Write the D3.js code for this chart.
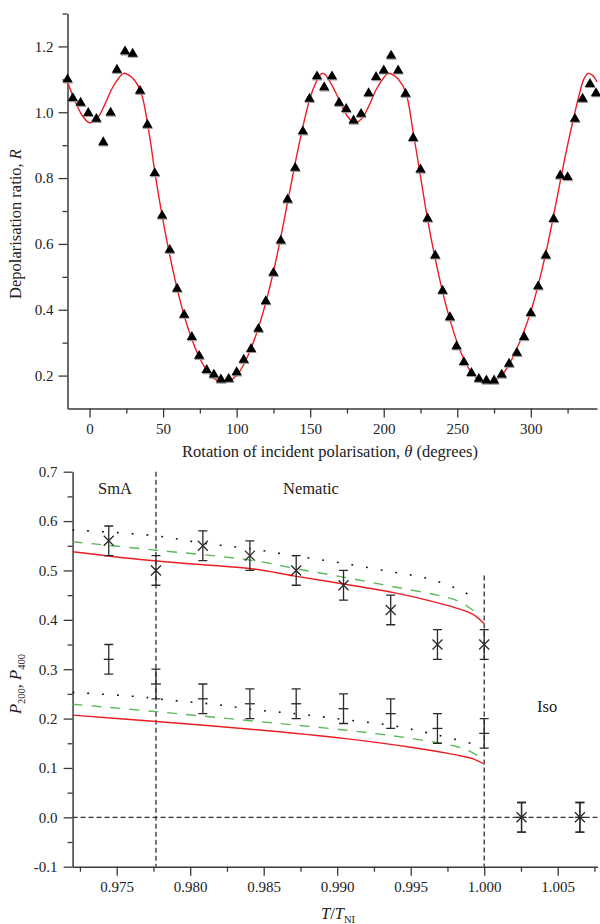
<!DOCTYPE html>
<html><head><meta charset="utf-8">
<script src="https://cdn.jsdelivr.net/npm/d3@7"></script>
<style>
body{margin:0;background:#fff;}
svg{display:block;font-family:"Liberation Serif","Times New Roman",serif;}
</style></head><body>
<svg id="chart" width="600" height="924"></svg>
<script>
// ---------- Top panel: depolarisation ratio vs rotation angle ----------
const thetaDeg = [-15, -11.4, -6.1, -0.9, 4.6, 9.3, 14.3, 18.6, 24.1, 29.3, 34.3, 39.3, 44.3, 49.3,
  54.5, 59.5, 64.3, 69.5, 74.5, 79.6, 84.5, 89.3, 94.6, 100, 104.8, 109.8, 114.8, 119.8, 125, 130,
  134.6, 139.8, 145, 149.5, 154.6, 159.5, 164.8, 169.6, 174.5, 179.5, 184.6, 189.7, 194.8, 200,
  205, 209.8, 214.8, 220, 225, 229.8, 235, 240, 245, 249.5, 254.5, 259.6, 264.7, 269.8, 275,
  280.2, 285.2, 290.5, 295.4, 300, 305, 310.2, 315.5, 320, 325, 330, 335.2, 340.2, 344.3];
const depolR = [1.10, 1.043, 1.029, 0.998, 0.98, 0.909, 0.999, 1.129, 1.185, 1.178, 1.065, 0.962, 0.815, 0.686,
  0.582, 0.464, 0.385, 0.317, 0.26, 0.217, 0.203, 0.188, 0.19, 0.21, 0.248, 0.281, 0.342, 0.426, 0.512, 0.61,
  0.735, 0.831, 0.942, 1.041, 1.109, 1.076, 1.109, 1.029, 1.01, 0.975, 0.995, 1.058, 1.107, 1.127,
  1.172, 1.127, 1.056, 0.922, 0.826, 0.677, 0.565, 0.458, 0.377, 0.289, 0.241, 0.208, 0.19, 0.185, 0.185,
  0.203, 0.236, 0.269, 0.317, 0.39, 0.471, 0.565, 0.676, 0.808, 0.803, 0.98, 1.041, 1.086, 1.058];
const fitTheta = [-15, -10, -5, 0, 5, 10, 15, 20, 23, 25, 30, 35, 40, 45, 50, 55, 60, 65, 70, 75, 80, 85, 90,
  95, 100, 105, 110, 115, 120, 125, 130, 135, 140, 145, 150, 155, 158, 160, 165, 170, 175, 180,
  185, 190, 195, 200, 203, 205, 210, 215, 220, 225, 230, 235, 240, 245, 250, 255, 260, 265, 270,
  275, 280, 285, 290, 295, 300, 305, 310, 315, 320, 325, 330, 333, 336, 339, 342, 345];
const fitR = [1.092, 1.035, 0.99, 0.968, 0.98, 1.02, 1.07, 1.105, 1.118, 1.117, 1.10, 1.06, 0.95, 0.80, 0.67, 0.555, 0.455, 0.372, 0.305, 0.252, 0.214, 0.19, 0.181,
  0.184, 0.2, 0.235, 0.285, 0.348, 0.425, 0.515, 0.62, 0.735, 0.85, 0.955, 1.045, 1.1, 1.118, 1.115, 1.08, 1.035, 0.99, 0.968,
  0.98, 1.02, 1.07, 1.105, 1.118, 1.117, 1.10, 1.06, 0.94, 0.805, 0.67, 0.555, 0.455, 0.37, 0.30, 0.245, 0.207, 0.187, 0.18,
  0.185, 0.2, 0.232, 0.277, 0.33, 0.395, 0.475, 0.568, 0.675, 0.79, 0.9, 1.0, 1.055, 1.1, 1.118, 1.112, 1.092];
const topXTicks = [0, 50, 100, 150, 200, 250, 300];
const topXMinor = [25, 75, 125, 175, 225, 275, 325];
const topYTicks = [0.2, 0.4, 0.6, 0.8, 1.0, 1.2];
const topYMinor = [0.3, 0.5, 0.7, 0.9, 1.1, 1.3];

// ---------- Bottom panel: order parameters vs reduced temperature ----------
const tRatio = [0.97446, 0.97767, 0.98086, 0.98406, 0.98721, 0.99043, 0.99364, 0.99682, 1.0, 1.00254, 1.00651];
const p200 = [0.56, 0.50, 0.55, 0.53, 0.50, 0.47, 0.42, 0.35, 0.35, 0.0, 0.0];
const p400 = [0.32, 0.27, 0.24, 0.23, 0.23, 0.22, 0.21, 0.18, 0.17, 0.0, 0.0];
const errP200 = [0.03, 0.03, 0.03, 0.03, 0.03, 0.03, 0.03, 0.03, 0.03, 0.03, 0.03];
const errP400 = [0.03, 0.03, 0.03, 0.03, 0.03, 0.03, 0.03, 0.03, 0.03, 0.03, 0.03];

const redT200 = [0.972, 0.9777, 0.9843, 0.98703, 0.99043, 0.99384, 0.99611, 0.99816, 0.99929, 1.0];
const redP200 = [0.538, 0.519, 0.503, 0.489, 0.4726, 0.455, 0.44, 0.4233, 0.41, 0.392];
const greenT200 = [0.972, 0.97772, 0.98408, 0.98749, 0.99089, 0.99384, 0.9968, 0.99816, 0.99907, 0.9998];
const greenP200 = [0.558, 0.541, 0.521, 0.502, 0.484, 0.467, 0.45, 0.439, 0.423, 0.406];
const dotT200 = [0.972, 0.9777, 0.9809, 0.98385, 0.98703, 0.99043, 0.99362, 0.99611, 0.99838, 0.99956];
const dotP200 = [0.582, 0.570, 0.555, 0.545, 0.53, 0.5145, 0.4975, 0.484, 0.46, 0.44];

const redT400 = [0.972, 0.9777, 0.9843, 0.99043, 0.995, 0.99816, 0.99929, 1.0];
const redP400 = [0.207, 0.194, 0.178, 0.16, 0.142, 0.126, 0.118, 0.108];
const greenT400 = [0.972, 0.9777, 0.9843, 0.99043, 0.995, 0.99816, 0.99907, 0.9998];
const greenP400 = [0.229, 0.214, 0.195, 0.177, 0.16, 0.143, 0.133, 0.12];
const dotT400 = [0.972, 0.97659, 0.97851, 0.98158, 0.98453, 0.98748, 0.99043, 0.9935, 0.99634, 0.99952];
const dotP400 = [0.253, 0.244, 0.2376, 0.229, 0.2174, 0.209, 0.198, 0.187, 0.17, 0.1465];

const phaseT = [0.97767, 1.0];
const phaseLabels = ["SmA", "Nematic", "Iso"];
const botXTicks = [0.975, 0.980, 0.985, 0.990, 0.995, 1.000, 1.005];
const botXMinor = [0.9725, 0.9775, 0.9825, 0.9875, 0.9925, 0.9975, 1.0025, 1.0075];
const botYTicks = [-0.1, 0.0, 0.1, 0.2, 0.3, 0.4, 0.5, 0.6, 0.7];
const botYMinor = [-0.05, 0.05, 0.15, 0.25, 0.35, 0.45, 0.55, 0.65];

// ---------- Drawing ----------
const svg = d3.select("#chart");
const AX = "#3a3a3a", TXT = "#222";
const RED = "#ee1c24", GREEN = "#5cb85c";

function styleAxis(g) {
  g.select(".domain").attr("stroke", AX).attr("stroke-width", 1.5);
  g.selectAll(".tick line").attr("stroke", AX).attr("stroke-width", 1.3);
  g.selectAll(".tick text").attr("fill", TXT).attr("font-size", 15)
    .attr("font-family", "Liberation Serif, serif");
}
function minorAxis(g) {
  g.select(".domain").remove();
  g.selectAll(".tick line").attr("stroke", AX).attr("stroke-width", 1.3);
}

// ===== Top panel =====
const xT = d3.scaleLinear().domain([-15, 345]).range([67.5, 597]);
const yT = d3.scaleLinear().domain([0.1, 1.3]).range([408.5, 13.5]);

svg.append("g").attr("transform", `translate(0,${yT.range()[0]})`)
  .call(d3.axisBottom(xT).tickValues(topXMinor).tickSize(5).tickFormat("")).call(minorAxis);
svg.append("g").attr("transform", `translate(${xT.range()[0]},0)`)
  .call(d3.axisLeft(yT).tickValues(topYMinor).tickSize(5).tickFormat("")).call(minorAxis);
svg.append("g").attr("transform", `translate(0,${yT.range()[0]})`)
  .call(d3.axisBottom(xT).tickValues(topXTicks).tickSize(9).tickPadding(6).tickSizeOuter(0).tickFormat(d3.format("d")))
  .call(styleAxis);
svg.append("g").attr("transform", `translate(${xT.range()[0]},0)`)
  .call(d3.axisLeft(yT).tickValues(topYTicks).tickSize(9).tickPadding(5).tickSizeOuter(0).tickFormat(d => d.toFixed(1)))
  .call(styleAxis);

const fitLine = d3.line().x((d, i) => xT(fitTheta[i])).y(d => yT(d)).curve(d3.curveCatmullRom.alpha(0.5));
svg.append("path").datum(fitR).attr("d", fitLine)
  .attr("fill", "none").attr("stroke", RED).attr("stroke-width", 1.4);

const tri = d3.symbol(d3.symbolTriangle, 46);
const ptsTop = svg.append("g");
ptsTop.selectAll("path.sh").data(depolR).join("path").attr("class", "sh")
  .attr("d", tri).attr("fill", "#9a9a9a")
  .attr("transform", (d, i) => `translate(${xT(thetaDeg[i]) + 0.5},${yT(d) + 1.2})`);
ptsTop.selectAll("path.pt").data(depolR).join("path").attr("class", "pt")
  .attr("d", tri).attr("fill", "#000")
  .attr("transform", (d, i) => `translate(${xT(thetaDeg[i])},${yT(d)})`);

// labels top
const xl = svg.append("text").attr("x", 330).attr("y", 457).attr("text-anchor", "middle")
  .attr("font-size", 16.5).attr("fill", TXT);
xl.append("tspan").text("Rotation of incident polarisation, ");
xl.append("tspan").attr("font-style", "italic").text("θ");
xl.append("tspan").text(" (degrees)");
const yl = svg.append("text").attr("transform", "translate(21,224) rotate(-90)").attr("text-anchor", "middle")
  .attr("font-size", 16.5).attr("fill", TXT);
yl.append("tspan").text("Depolarisation ratio, ");
yl.append("tspan").attr("font-style", "italic").text("R");

// ===== Bottom panel =====
const xB = d3.scaleLinear().domain([0.972, 1.0077]).range([72.6, 597.4]);
const yB = d3.scaleLinear().domain([-0.1, 0.7]).range([866.7, 471.7]);

svg.append("g").attr("transform", `translate(0,${yB.range()[0]})`)
  .call(d3.axisBottom(xB).tickValues(botXMinor).tickSize(5).tickFormat("")).call(minorAxis);
svg.append("g").attr("transform", `translate(${xB.range()[0]},0)`)
  .call(d3.axisLeft(yB).tickValues(botYMinor).tickSize(5).tickFormat("")).call(minorAxis);

// reference dashed lines
const dashCol = "#333";
svg.append("line").attr("x1", xB(0.972)).attr("x2", xB(1.0077)).attr("y1", yB(0)).attr("y2", yB(0))
  .attr("stroke", dashCol).attr("stroke-width", 1.3).attr("stroke-dasharray", "5,3");
svg.append("line").attr("x1", xB(phaseT[0])).attr("x2", xB(phaseT[0])).attr("y1", yB(0.7)).attr("y2", yB(-0.1))
  .attr("stroke", dashCol).attr("stroke-width", 1.3).attr("stroke-dasharray", "5,3");
svg.append("line").attr("x1", xB(phaseT[1])).attr("x2", xB(phaseT[1])).attr("y1", yB(0.49)).attr("y2", yB(-0.1))
  .attr("stroke", dashCol).attr("stroke-width", 1.3).attr("stroke-dasharray", "5,3");

svg.append("g").attr("transform", `translate(0,${yB.range()[0]})`)
  .call(d3.axisBottom(xB).tickValues(botXTicks).tickSize(9).tickPadding(6).tickSizeOuter(0).tickFormat(d => d.toFixed(3)))
  .call(styleAxis);
svg.append("g").attr("transform", `translate(${xB.range()[0]},0)`)
  .call(d3.axisLeft(yB).tickValues(botYTicks).tickSize(9).tickPadding(6).tickSizeOuter(0).tickFormat(d => d.toFixed(1)))
  .call(styleAxis);

function modelLine(ts, vs, color, dash, width) {
  const ln = d3.line().x((d, i) => xB(ts[i])).y(d => yB(d)).curve(d3.curveCatmullRom.alpha(0.5));
  svg.append("path").datum(vs).attr("d", ln).attr("fill", "none")
    .attr("stroke", color).attr("stroke-width", width).attr("stroke-dasharray", dash);
}
modelLine(dotT200, dotP200, "#111", "1.8,13", 1.6);
modelLine(dotT400, dotP400, "#111", "1.8,13", 1.6);
modelLine(greenT200, greenP200, GREEN, "10,9", 1.4);
modelLine(greenT400, greenP400, GREEN, "10,9", 1.4);
modelLine(redT200, redP200, RED, null, 1.4);
modelLine(redT400, redP400, RED, null, 1.4);

// error bars and markers
const EB = "#2a2a2a", cap = 4.5, mk = 5;
function errbars(vals, errs) {
  const g = svg.append("g").attr("stroke", EB).attr("stroke-width", 1.3).attr("fill", "none");
  g.selectAll("path").data(vals).join("path").attr("d", (d, i) => {
    const x = xB(tRatio[i]), y1 = yB(d + errs[i]), y2 = yB(d - errs[i]);
    return `M${x},${y1}V${y2}M${x - cap},${y1}H${x + cap}M${x - cap},${y2}H${x + cap}`;
  });
}
errbars(p200, errP200);
errbars(p400, errP400);
svg.append("g").attr("stroke", EB).attr("stroke-width", 1.3).attr("fill", "none")
  .selectAll("path").data(p200).join("path").attr("d", (d, i) => {
    const x = xB(tRatio[i]), y = yB(d);
    return `M${x - mk},${y - mk}L${x + mk},${y + mk}M${x - mk},${y + mk}L${x + mk},${y - mk}`;
  });
svg.append("g").attr("stroke", EB).attr("stroke-width", 1.3).attr("fill", "none")
  .selectAll("path").data(p400).join("path").attr("d", (d, i) => {
    const x = xB(tRatio[i]), y = yB(d);
    return `M${x - mk},${y}H${x + mk}`;
  });

// phase labels
svg.append("text").attr("x", 98).attr("y", 494).attr("font-size", 16.5).attr("fill", TXT).text(phaseLabels[0]);
svg.append("text").attr("x", 283).attr("y", 493.5).attr("font-size", 16.5).attr("fill", TXT).text(phaseLabels[1]);
svg.append("text").attr("x", 537).attr("y", 712).attr("font-size", 16.5).attr("fill", TXT).text(phaseLabels[2]);

// axis titles bottom
const byl = svg.append("text").attr("transform", "translate(21,684) rotate(-90)").attr("text-anchor", "middle")
  .attr("font-size", 16.5).attr("fill", TXT);
byl.append("tspan").attr("font-style", "italic").text("P");
byl.append("tspan").attr("font-size", 10.5).attr("dy", 4).text("200");
byl.append("tspan").attr("dy", -4).text(", ");
byl.append("tspan").attr("font-style", "italic").text("P");
byl.append("tspan").attr("font-size", 10.5).attr("dy", 4).text("400");

const bxl = svg.append("text").attr("x", 338).attr("y", 919).attr("text-anchor", "middle")
  .attr("font-size", 16.5).attr("fill", TXT);
bxl.append("tspan").attr("font-style", "italic").text("T");
bxl.append("tspan").text("/");
bxl.append("tspan").attr("font-style", "italic").text("T");
bxl.append("tspan").attr("font-size", 10.5).attr("dy", 4).text("NI");
</script>
</body></html>
